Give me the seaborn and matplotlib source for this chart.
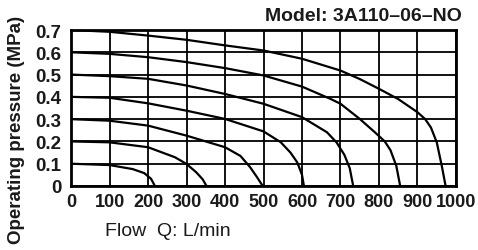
import matplotlib
matplotlib.use("Agg")
import matplotlib.pyplot as plt
import seaborn as sns
import pandas as pd

# Flow (L/min) and pressure (MPa)
q07 = [0, 100, 200, 300, 400, 500, 600, 700, 750, 800, 850, 900, 920, 935, 950, 963, 973]
p07 = [0.70, 0.692, 0.675, 0.656, 0.631, 0.608, 0.571, 0.518, 0.480, 0.436, 0.39, 0.331, 0.300, 0.262, 0.196, 0.091, 0.0]
q06 = [0, 100, 200, 300, 400, 500, 600, 675, 700, 750, 790, 815, 830, 845, 855]
p06 = [0.60, 0.593, 0.578, 0.556, 0.529, 0.496, 0.446, 0.39, 0.369, 0.301, 0.240, 0.200, 0.160, 0.090, 0.0]
q05 = [0, 100, 200, 300, 400, 500, 600, 665, 690, 710, 724, 733]
p05 = [0.50, 0.493, 0.481, 0.451, 0.413, 0.369, 0.309, 0.241, 0.195, 0.140, 0.080, 0.0]
q04 = [0, 100, 200, 300, 400, 500, 545, 570, 588, 600, 605]
p04 = [0.40, 0.396, 0.371, 0.338, 0.301, 0.245, 0.196, 0.150, 0.105, 0.050, 0.0]
q03 = [0, 100, 200, 300, 400, 440, 465, 483, 498]
p03 = [0.30, 0.293, 0.271, 0.226, 0.174, 0.135, 0.085, 0.040, 0.0]
q02 = [0, 100, 200, 270, 300, 325, 342, 352]
p02 = [0.20, 0.196, 0.174, 0.129, 0.099, 0.062, 0.030, 0.0]
q01 = [0, 100, 160, 190, 208, 218]
p01 = [0.10, 0.094, 0.076, 0.058, 0.032, 0.0]

x_ticks = [0, 100, 200, 300, 400, 500, 600, 700, 800, 900, 1000]
y_ticks = [0, 0.1, 0.2, 0.3, 0.4, 0.5, 0.6, 0.7]
y_ticklabels = ["0", "0.1", "0.2", "0.3", "0.4", "0.5", "0.6", "0.7"]
title = "Model: 3A110–06–NO"
xlabel = "Flow  Q: L/min"
ylabel = "Operating pressure (MPa)"

curves = {"0.7": (q07, p07), "0.6": (q06, p06), "0.5": (q05, p05), "0.4": (q04, p04),
          "0.3": (q03, p03), "0.2": (q02, p02), "0.1": (q01, p01)}
frames = []
for name, (q, p) in curves.items():
    frames.append(pd.DataFrame({"flow": q, "pressure": p, "set": name}))
df = pd.concat(frames, ignore_index=True)

sns.set_style("white")
plt.rcParams["font.family"] = ["Liberation Sans", "DejaVu Sans"]

fig = plt.figure(figsize=(4.78, 2.51), dpi=100)
ax = fig.add_axes([71 / 478, 1 - 187 / 251, (456 - 71) / 478, (187 - 31) / 251])

sns.lineplot(data=df, x="flow", y="pressure", hue="set", units="set", estimator=None,
             sort=False, palette=["black"] * 7, linewidth=1.6, legend=False, ax=ax, zorder=3)
for ln in ax.lines:
    ln.set_solid_joinstyle("round")

ax.set_xlim(0, 1000)
ax.set_ylim(0, 0.7)
ax.set_xticks(x_ticks)
ax.set_yticks(y_ticks)
ax.set_yticklabels(y_ticklabels)
ax.grid(True, color="black", linewidth=1.3)
ax.set_axisbelow(True)
for s in ax.spines.values():
    s.set_color("black")
    s.set_linewidth(2.0)
    s.set_visible(True)
ax.tick_params(axis="both", length=0, labelcolor="#1a1a1a")
ax.tick_params(axis="x", pad=5, labelsize=13)
ax.tick_params(axis="y", pad=7, labelsize=13.5)
for lab in ax.get_xticklabels() + ax.get_yticklabels():
    lab.set_fontweight("bold")
ax.set_xlabel("")
ax.set_ylabel("")

fig.text(17 / 478, 1 - 130 / 251, ylabel, rotation=90, ha="center", va="center",
         fontsize=13.5, fontweight="bold", color="#1a1a1a")
fig.text(105 / 478, 1 - 232 / 251, xlabel, ha="left", va="center",
         fontsize=14, color="#1a1a1a")
fig.text(462 / 478, 1 - 17 / 251, title, ha="right", va="center",
         fontsize=14, fontweight="bold", color="#1a1a1a")

fig.savefig("out.png", dpi=100)
